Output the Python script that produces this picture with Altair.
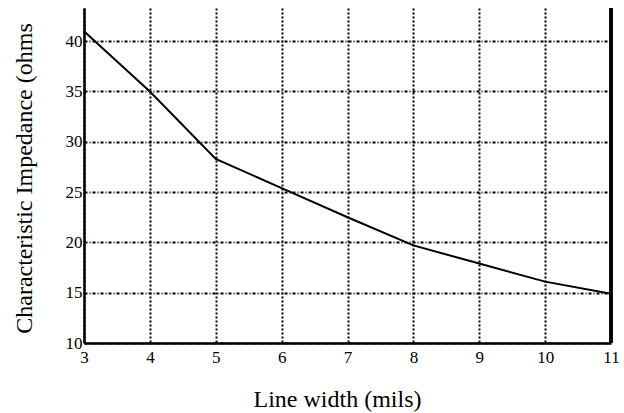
import altair as alt
import pandas as pd

# Data
line_width = [3, 4, 5, 6, 7, 8, 9, 10, 11]
impedance = [41.0, 35.0, 28.3, 25.4, 22.5, 19.7, 17.9, 16.1, 14.9]
x_ticks = [3, 4, 5, 6, 7, 8, 9, 10, 11]
y_ticks = [10, 15, 20, 25, 30, 35, 40]

df = pd.DataFrame({"w": line_width, "z": impedance})

FONT = "Liberation Serif"

x_scale = alt.Scale(domain=[3, 11], nice=False, zero=False)
y_scale = alt.Scale(domain=[10, 43.3], nice=False, zero=False)

x_axis = alt.Axis(
    values=x_ticks, format="d", title="Line width (mils)", grid=True,
    gridColor="black", gridDash=[2, 2], gridWidth=2, gridOpacity=1,
    domain=True, domainColor="black", domainWidth=2.5,
    ticks=False, labelFont=FONT, labelFontSize=17, labelColor="black",
    labelPadding=6, titleFont=FONT, titleFontSize=24, titleFontWeight="normal",
    titleColor="black", titleX=253, titleY=63, titleBaseline="alphabetic",
    titleAlign="center", labelFlush=False, labelOverlap=False,
)
y_axis = alt.Axis(
    values=y_ticks, format="d", title="Characteristic Impedance (ohms", grid=True,
    gridColor="black", gridDash=[3, 2, 1, 2], gridWidth=2, gridOpacity=1,
    domain=True, domainColor="black", domainWidth=2.5,
    ticks=False, labelFont=FONT, labelFontSize=17, labelColor="black",
    labelPadding=2, titleFont=FONT, titleFontSize=24, titleFontWeight="normal",
    titleColor="black", titleX=-60, titleY=170, titleBaseline="middle",
    titleAngle=-90, titleAlign="center", labelFlush=False, labelOverlap=False,
)

line = alt.Chart(df).mark_line(color="black", strokeWidth=2).encode(
    x=alt.X("w:Q", scale=x_scale, axis=x_axis),
    y=alt.Y("z:Q", scale=y_scale, axis=y_axis),
)

right = alt.Chart(df).mark_rule(color="black", strokeWidth=2.5).encode(
    x=alt.datum(11),
    y=alt.value(0),
    y2=alt.value(335),
)

chart = (line + right).properties(
    width=527, height=335,
    autosize=alt.AutoSizeParams(type="none"),
    padding={"left": 84, "top": 8, "right": 13, "bottom": 70},
    background="white",
).configure_view(stroke=None)

chart.save("out.html", embed_options={"renderer": "svg", "actions": False})
